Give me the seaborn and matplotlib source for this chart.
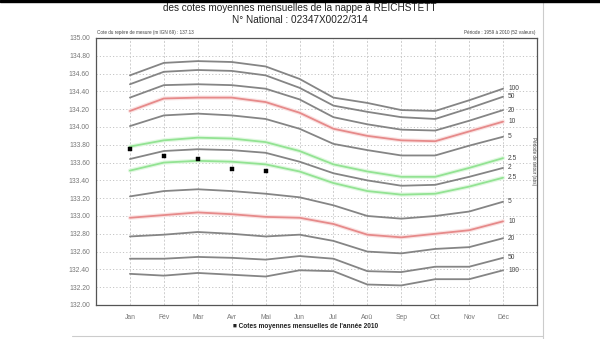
import matplotlib
matplotlib.use("Agg")
import matplotlib.pyplot as plt
import seaborn as sns
import pandas as pd
import numpy as np
from matplotlib.lines import Line2D
from matplotlib.patches import Rectangle

months = ["Jan", "Fév", "Mar", "Avr", "Mai", "Jun", "Jul", "Aoû", "Sep", "Oct", "Nov", "Déc"]
month_num = list(range(1, 13))

# return-period curves (wet side, median, dry side)
wet_100 = [134.58, 134.72, 134.74, 134.73, 134.68, 134.54, 134.33, 134.27, 134.19, 134.18, 134.30, 134.43]
wet_50 = [134.48, 134.62, 134.64, 134.63, 134.58, 134.44, 134.24, 134.17, 134.11, 134.09, 134.21, 134.34]
wet_20 = [134.33, 134.47, 134.48, 134.47, 134.43, 134.31, 134.11, 134.03, 133.97, 133.96, 134.07, 134.19]
wet_10 = [134.18, 134.32, 134.33, 134.33, 134.28, 134.16, 133.98, 133.90, 133.85, 133.84, 133.95, 134.06]
wet_5 = [134.01, 134.13, 134.15, 134.13, 134.09, 133.98, 133.81, 133.74, 133.68, 133.68, 133.79, 133.89]
wet_2_5 = [133.78, 133.85, 133.88, 133.87, 133.83, 133.73, 133.58, 133.50, 133.44, 133.44, 133.54, 133.65]
median_2 = [133.64, 133.73, 133.75, 133.74, 133.71, 133.61, 133.48, 133.40, 133.34, 133.35, 133.44, 133.54]
dry_2_5 = [133.51, 133.60, 133.62, 133.61, 133.58, 133.50, 133.37, 133.28, 133.24, 133.25, 133.33, 133.43]
dry_5 = [133.22, 133.28, 133.30, 133.28, 133.25, 133.21, 133.12, 133.00, 132.97, 133.00, 133.05, 133.16]
dry_10 = [132.98, 133.01, 133.04, 133.02, 132.99, 132.98, 132.91, 132.79, 132.76, 132.80, 132.84, 132.94]
dry_20 = [132.77, 132.79, 132.82, 132.80, 132.77, 132.79, 132.72, 132.60, 132.58, 132.63, 132.65, 132.75]
dry_50 = [132.52, 132.52, 132.54, 132.53, 132.51, 132.55, 132.52, 132.38, 132.37, 132.43, 132.43, 132.53]
dry_100 = [132.35, 132.33, 132.36, 132.34, 132.32, 132.39, 132.38, 132.23, 132.22, 132.29, 132.29, 132.39]

series_labels = ["100", "50", "20", "10", "5", "2.5", "2", "2.5", "5", "10", "20", "50", "100"]
series_values = [wet_100, wet_50, wet_20, wet_10, wet_5, wet_2_5, median_2,
                 dry_2_5, dry_5, dry_10, dry_20, dry_50, dry_100]
series_kind = ["gray", "gray", "gray", "red", "gray", "green", "gray",
               "green", "gray", "red", "gray", "gray", "gray"]

obs_months = [1, 2, 3, 4, 5]
obs_2010 = [133.75, 133.67, 133.64, 133.53, 133.51]

yticks = [132.0 + 0.2 * i for i in range(16)]

sns.set_theme(style="white")
plt.rcParams['font.family'] = ['Liberation Sans', 'DejaVu Sans']

fig = plt.figure(figsize=(6.0, 3.39), dpi=100)
fig.patch.set_facecolor("white")
ax = fig.add_axes([0.16, 0.1003, 0.735, 0.7877])
ax.set_facecolor("white")

styles = {
    "gray": dict(core="#858585", glow=None),
    "red": dict(core="#e68a8a", glow="#fae3e3"),
    "green": dict(core="#93e393", glow="#e2f8e2"),
}

for lab, vals, kind in zip(series_labels, series_values, series_kind):
    df = pd.DataFrame({"mois": month_num, "cote": vals})
    st = styles[kind]
    if st["glow"] is not None:
        sns.lineplot(data=df, x="mois", y="cote", ax=ax, color=st["glow"],
                     linewidth=3.0, estimator=None, zorder=2)
    sns.lineplot(data=df, x="mois", y="cote", ax=ax, color=st["core"],
                 linewidth=1.3, estimator=None, zorder=3)
    ax.text(12.15, vals[-1], lab, fontsize=4.8, color="#444444",
            ha="left", va="center", zorder=4)

obs_df = pd.DataFrame({"mois": obs_months, "cote": obs_2010})
sns.scatterplot(data=obs_df, x="mois", y="cote", ax=ax, marker="s", s=5,
                color="black", edgecolor="black", linewidth=0.3, zorder=5)

ax.set_xlim(0, 13)
ax.set_ylim(132.0, 135.0)
ax.set_xticks(month_num)
ax.set_xticklabels(months)
ax.set_yticks(yticks)
ax.set_yticklabels([f"{v:.2f}" for v in yticks])
ax.tick_params(axis="both", labelsize=4.9, colors="#666666", length=2.5,
               width=0.6, direction="out", pad=2)
ax.tick_params(axis="both", labelcolor="#777777")
ax.tick_params(axis="x", pad=4)
ax.set_xlabel("")
ax.set_ylabel("")

for y in yticks[1:-1]:
    ax.axhline(y, color="#c4c4c4", linestyle=(0, (1.2, 2.2)), linewidth=0.7, zorder=1)
for x in month_num:
    ax.axvline(x, color="#c8c8c8", linestyle=(0, (2.5, 2)), linewidth=0.6, zorder=1)

for side in ["left", "bottom", "top", "right"]:
    ax.spines[side].set_visible(True)
    ax.spines[side].set_color("#555555")
    ax.spines[side].set_linewidth(0.9)

ax.text(12.9, 133.62, "Période de retour (ans)", rotation=270, fontsize=3.3,
        color="#444444", ha="center", va="center")

fig.text(0.5, 0.975, "des cotes moyennes mensuelles de la nappe à REICHSTETT",
         ha="center", va="center", fontsize=7.2, color="#222222")
fig.text(0.5, 0.94, "N° National : 02347X0022/314", ha="center", va="center",
         fontsize=7.2, color="#222222")
fig.text(0.162, 0.905, "Cote du repère de mesure (m IGN 69) : 137.13", ha="left",
         va="center", fontsize=3.3, color="#444444")
fig.text(0.893, 0.905, "Période : 1959 à 2010 (52 valeurs)", ha="right",
         va="center", fontsize=3.3, color="#444444")

fig.text(0.51, 0.038, "■ Cotes moyennes mensuelles de l'année 2010", ha="center",
         va="center", fontsize=4.7, color="#222222", fontweight="bold")

# thin black strip at top and light frame lines
fig.add_artist(Rectangle((0, 0.993), 1, 0.007, transform=fig.transFigure,
                         color="black", zorder=10))
fig.add_artist(Line2D([0.905, 0.905], [0.0, 0.993], transform=fig.transFigure,
                      color="#cccccc", linewidth=0.8))
fig.add_artist(Line2D([0.12, 0.905], [0.008, 0.008], transform=fig.transFigure,
                      color="#cccccc", linewidth=0.8))

fig.savefig("out.png", dpi=100, facecolor="white")
